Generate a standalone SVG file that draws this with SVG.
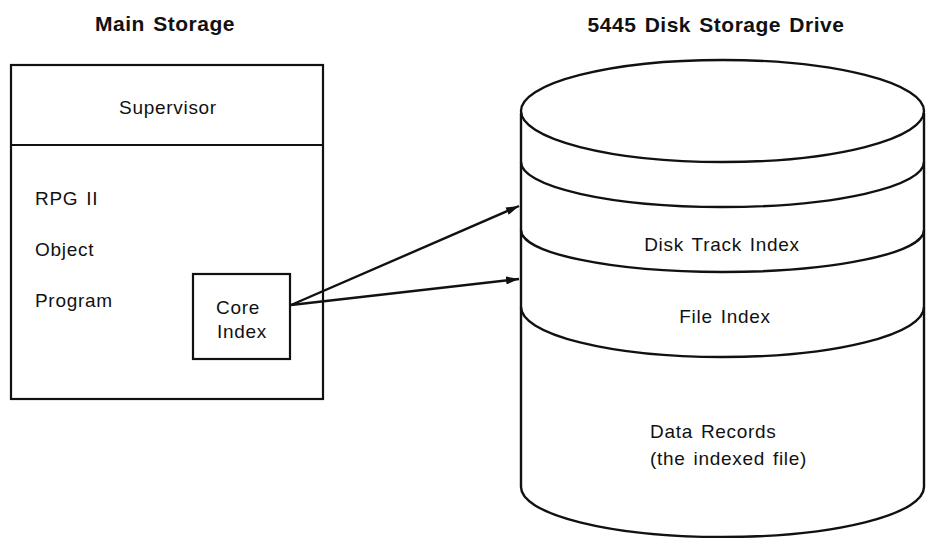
<svg xmlns="http://www.w3.org/2000/svg" width="926" height="538" viewBox="0 0 926 538">
<style>
.t{font-family:"Liberation Sans",Arial,sans-serif;font-size:19px;letter-spacing:0.7px;word-spacing:2px;fill:#111}
.h{font-family:"Liberation Sans",Arial,sans-serif;font-size:21px;font-weight:bold;letter-spacing:0.5px;word-spacing:2px;fill:#111}
.s{fill:none;stroke:#111;stroke-width:2.2}
.b{fill:#fff;stroke:#111;stroke-width:2.2}
.c{fill:none;stroke:#111;stroke-width:2.4}
.a{fill:none;stroke:#111;stroke-width:2.4}
</style>
<defs>
<marker id="arr" viewBox="0 0 13 8" refX="13" refY="4" markerWidth="13" markerHeight="8" markerUnits="userSpaceOnUse" orient="auto">
<path d="M0,0 L13,4 L0,8 Z" fill="#111"/>
</marker>
</defs>
<rect width="926" height="538" fill="#fff"/>
<text class="h" x="165" y="31" text-anchor="middle">Main Storage</text>
<text class="h" x="716" y="32" text-anchor="middle">5445 Disk Storage Drive</text>
<g id="main-storage">
<rect class="b" x="11" y="65" width="312" height="334"/>
<line class="s" x1="11" y1="145" x2="323" y2="145"/>
</g>
<g id="supervisor">
<text class="t" x="168" y="114" text-anchor="middle">Supervisor</text>
</g>
<g id="rpg-program">
<text class="t" x="35" y="205">RPG II</text>
<text class="t" x="35" y="256">Object</text>
<text class="t" x="35" y="307">Program</text>
</g>
<g id="core-index">
<rect class="b" x="193" y="274" width="97" height="85"/>
<text class="t" x="216" y="314">Core</text>
<text class="t" x="217" y="338">Index</text>
</g>
<g id="disk">
<path class="c" d="M521,113 L521,487 A201.5,50 0 0 0 924,487 L924,113"/>
<ellipse class="c" cx="722.5" cy="111" rx="201.5" ry="51"/>
<path class="c" d="M521,162 A201.5,45 0 0 0 924,162"/>
<path class="c" d="M521,230 A201.5,42 0 0 0 924,230"/>
<path class="c" d="M521,307 A201.5,50 0 0 0 924,307"/>
</g>
<g id="disk-track-index">
<text class="t" x="722" y="251" text-anchor="middle">Disk Track Index</text>
</g>
<g id="file-index">
<text class="t" x="725" y="323" text-anchor="middle">File Index</text>
</g>
<g id="data-records">
<text class="t" x="650" y="438">Data Records</text>
<text class="t" x="650" y="465">(the indexed file)</text>
</g>
<g id="connectors">
<line class="a" x1="291" y1="305" x2="519" y2="206" marker-end="url(#arr)"/>
<line class="a" x1="291" y1="305" x2="519" y2="279" marker-end="url(#arr)"/>
</g>
</svg>
